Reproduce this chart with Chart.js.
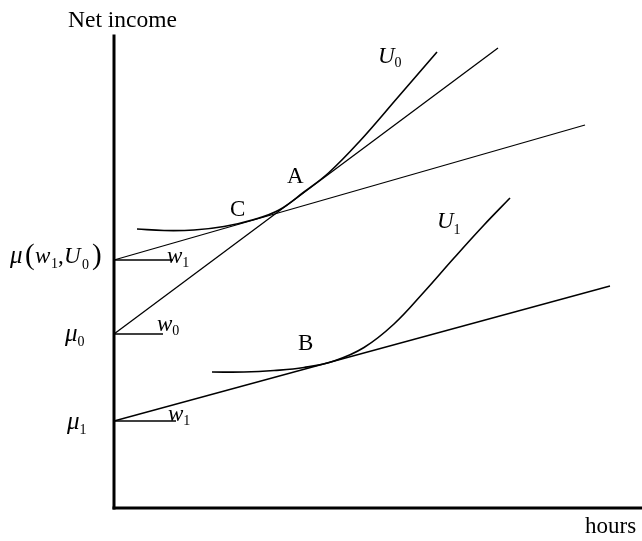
<!DOCTYPE html>
<html lang="en">
<head>
  <meta charset="UTF-8">
  <title>Labour supply: budget lines and indifference curves</title>
  <script src="https://cdn.jsdelivr.net/npm/chart.js"></script>
  <style>
    body { margin: 0; background: #fff; }
    #wrap { width: 642px; height: 541px; }
  </style>
</head>
<body>
  <div id="wrap"><canvas id="laborChart" width="642" height="541"></canvas></div>
  <script>
    // data units: x = hours, y = net income (arbitrary units)
    const axisY = [{x: 0, y: 0}, {x: 0, y: 472}];
    const axisX = [{x: 0, y: 0}, {x: 528, y: 0}];
    const budgetW1Upper = [{x: 0, y: 248}, {x: 471, y: 383}];
    const budgetW0 = [{x: 0, y: 174}, {x: 384, y: 460}];
    const budgetW1Lower = [{x: 0, y: 87}, {x: 496, y: 222}];
    const tickW1Upper = [{x: 0, y: 248}, {x: 59, y: 248}];
    const tickW0 = [{x: 0, y: 174}, {x: 49, y: 174}];
    const tickW1Lower = [{x: 0, y: 87}, {x: 62, y: 87}];
    const curveU0 = [
      {x: 23, y: 279}, {x: 50, y: 277.5}, {x: 80, y: 278}, {x: 110, y: 281.5},
      {x: 140, y: 288.5}, {x: 165, y: 298}, {x: 190, y: 316}, {x: 215, y: 335.5},
      {x: 245, y: 366}, {x: 285, y: 412}, {x: 323, y: 456}
    ];
    const curveU1 = [
      {x: 98, y: 136}, {x: 130, y: 136}, {x: 160, y: 137.5}, {x: 190, y: 140.5},
      {x: 220, y: 147}, {x: 250, y: 160.5}, {x: 280, y: 184}, {x: 310, y: 216},
      {x: 340, y: 250}, {x: 370, y: 283}, {x: 396, y: 310}
    ];

    const serif = '"Liberation Serif", "DejaVu Serif", serif';
    const F = size => size + 'px ' + serif;
    const FI = size => 'italic ' + size + 'px ' + serif;

    // each label: anchor (left, baseline) in data units; runs are
    // [text, font, drop below baseline, optional fixed x offset]
    const labels = [
      {x: -46, y: 481, runs: [['Net income', F(23.5), 0]]},
      {x: 471, y: -25, runs: [['hours', F(23), 0]]},
      {x: 264, y: 445, runs: [['U', FI(23), 0], ['0', F(14), 4]]},
      {x: 323, y: 280, runs: [['U', FI(23), 0], ['1', F(14), 6]]},
      {x: 173, y: 325, runs: [['A', F(23), 0]]},
      {x: 116, y: 292, runs: [['C', F(23), 0]]},
      {x: 184, y: 158, runs: [['B', F(23), 0]]},
      {x: -104, y: 245, runs: [
        ['\u03bc', FI(25), 0, 0], ['(', F(29), 1, 15], ['w', FI(23), 0, 25],
        ['1', F(14), 5, 41], [',', F(23), 0, 48], ['U', FI(23), 0, 54],
        ['0', F(14), 6, 72], [')', F(29), 1, 82]
      ]},
      {x: -49, y: 167, runs: [['\u03bc', FI(25), 0], ['0', F(14), 5]]},
      {x: -47, y: 79, runs: [['\u03bc', FI(25), 0], ['1', F(14), 5]]},
      {x: 53, y: 245, runs: [['w', FI(23), 0], ['1', F(14), 4]]},
      {x: 43, y: 177, runs: [['w', FI(23), 0], ['0', F(14), 4]]},
      {x: 54, y: 87, runs: [['w', FI(23), 0], ['1', F(14), 4]]}
    ];

    const textPlugin = {
      id: 'diagramText',
      afterDatasetsDraw(chart) {
        const {ctx, scales} = chart;
        ctx.save();
        ctx.fillStyle = '#000';
        ctx.textBaseline = 'alphabetic';
        ctx.textAlign = 'left';
        labels.forEach(l => {
          const x0 = scales.x.getPixelForValue(l.x);
          const py = scales.y.getPixelForValue(l.y);
          let px = x0;
          l.runs.forEach(([t, font, dy, off]) => {
            ctx.font = font;
            if (off !== undefined) px = x0 + off;
            ctx.fillText(t, px, py + dy);
            px += ctx.measureText(t).width;
          });
        });
        ctx.restore();
      }
    };

    function seg(data, width, extra) {
      return Object.assign({
        data, showLine: true, borderColor: '#000', borderWidth: width,
        pointRadius: 0, fill: false, clip: false, tension: 0
      }, extra || {});
    }

    new Chart(document.getElementById('laborChart'), {
      type: 'scatter',
      data: {
        datasets: [
          seg(axisY, 3, {borderCapStyle: 'square'}),
          seg(axisX, 3, {borderCapStyle: 'square'}),
          seg(budgetW1Upper, 1.3),
          seg(budgetW0, 1.3),
          seg(budgetW1Lower, 1.3),
          seg(tickW1Upper, 1.5),
          seg(tickW0, 1.5),
          seg(tickW1Lower, 1.5),
          seg(curveU0, 1.6, {tension: 0.4}),
          seg(curveU1, 1.6, {tension: 0.4})
        ]
      },
      options: {
        responsive: false,
        animation: false,
        layout: { padding: {left: 114, right: 1, top: 36, bottom: 33} },
        plugins: { legend: {display: false}, tooltip: {enabled: false} },
        scales: {
          x: { type: 'linear', min: 0, max: 527, display: false },
          y: { type: 'linear', min: 0, max: 472, display: false }
        }
      },
      plugins: [textPlugin]
    });
  </script>
</body>
</html>
